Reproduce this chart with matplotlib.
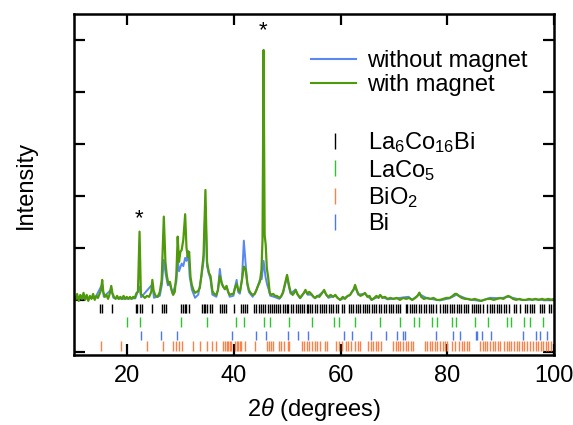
import matplotlib
matplotlib.use("Agg")
import matplotlib.pyplot as plt
from matplotlib.lines import Line2D

plt.rcParams['font.family'] = ['Liberation Sans', 'DejaVu Sans']
plt.rcParams['mathtext.fontset'] = 'custom'
plt.rcParams['mathtext.rm'] = 'Liberation Sans'
plt.rcParams['mathtext.it'] = 'Liberation Sans:italic'

# with magnet (2theta, intensity)
with_x = [10.0, 10.3, 10.6, 10.9, 11.2, 11.5, 11.8, 12.1, 12.4, 12.7, 13.0, 13.3, 13.6, 13.9, 14.2, 14.5,
          14.8, 15.1, 15.3, 15.5, 15.8, 16.1, 16.4, 16.7, 17.0, 17.2, 17.5, 17.8, 18.1, 18.4, 18.7, 19.0,
          19.3, 19.6, 19.9, 20.2, 20.5, 20.8, 21.1, 21.4, 21.75, 22.0, 22.3, 22.55, 22.9, 23.3, 23.7, 24.1,
          24.5, 24.7, 24.95, 25.3, 25.7, 26.1, 26.45, 26.85, 27.15, 27.4, 27.7, 28.0, 28.3, 28.6, 28.9, 29.2,
          29.45, 29.7, 29.95, 30.2, 30.5, 30.85, 31.1, 31.35, 31.6, 31.85, 32.1, 32.4, 32.7, 33.0, 33.3, 33.6,
          33.9, 34.3, 34.65, 34.95, 35.3, 35.6, 35.95, 36.3, 36.7, 37.0, 37.35, 37.7, 38.0, 38.3, 38.6, 38.9,
          39.2, 39.6, 39.9, 40.2, 40.5, 40.8, 41.1, 41.5, 41.85, 42.2, 42.5, 42.8, 43.1, 43.5, 43.9, 44.2,
          44.5, 44.85, 45.15, 45.35, 45.55, 45.75, 45.95, 46.15, 46.4, 46.7, 47.0, 47.35, 47.7, 48.0, 48.3, 48.6,
          48.9, 49.2, 49.6, 49.95, 50.3, 50.6, 51.0, 51.3, 51.55, 51.9, 52.4, 52.8, 53.1, 53.4, 53.8, 54.1,
          54.5, 54.9, 55.2, 55.6, 56.0, 56.4, 56.9, 57.3, 57.7, 58.1, 58.6, 59.0, 59.4, 59.9, 60.4, 60.8,
          61.3, 61.75, 62.1, 62.4, 62.7, 63.0, 63.3, 63.7, 64.1, 64.55, 65.0, 65.4, 65.8, 66.3, 66.7, 67.1,
          67.4, 67.8, 68.3, 68.8, 69.3, 69.9, 70.5, 71.1, 71.7, 72.3, 72.8, 73.4, 74.0, 74.4, 74.75, 75.1,
          75.6, 76.2, 76.8, 77.4, 78.0, 78.6, 79.2, 79.8, 80.4, 81.0, 81.4, 81.75, 82.1, 82.7, 83.3, 83.9,
          84.5, 85.1, 85.7, 86.3, 86.9, 87.5, 88.1, 88.7, 89.3, 89.9, 90.5, 91.0, 91.4, 91.8, 92.3, 92.9,
          93.5, 94.1, 94.7, 95.3, 95.9, 96.5, 97.1, 97.7, 98.3, 98.9, 99.5, 100.0]
with_y = [1077, 1000, 1115, 981, 1096, 1019, 1135, 1000, 1096, 981, 1077, 1019, 1115, 1000, 1077, 1038,
          1115, 1192, 1385, 1154, 1058, 1096, 1019, 1115, 1269, 1135, 1058, 1019, 1077, 1019, 1058, 1019,
          1077, 1019, 1058, 1019, 1058, 1019, 1058, 1038, 1135, 1154, 2313, 1115, 1077, 1038, 1077, 1058,
          1154, 1385, 1173, 1077, 1058, 1154, 1385, 2602, 1731, 1481, 1308, 1346, 1192, 1096, 1154, 1481,
          2217, 1731, 1923, 1962, 2154, 2648, 1999, 1827, 1923, 1442, 1288, 1192, 1135, 1154, 1173, 1231,
          1481, 1865, 3115, 1731, 1519, 1461, 1173, 1115, 1096, 1192, 1461, 1327, 1250, 1211, 1269, 1154,
          1096, 1115, 1115, 1231, 1308, 1192, 1154, 1385, 1640, 1577, 1327, 1192, 1135, 1096, 1115, 1192,
          1269, 1346, 1577, 2154, 5808, 2250, 2058, 1615, 1442, 1135, 1096, 1115, 1077, 1077, 1058, 1038,
          1077, 1154, 1327, 1481, 1288, 1154, 1096, 1135, 1192, 1115, 1038, 1096, 1135, 1192, 1115, 1154,
          1115, 1058, 1038, 1077, 1058, 1115, 1192, 1096, 1058, 1096, 1058, 1096, 1038, 1000, 1058, 1019,
          1077, 1096, 1154, 1192, 1288, 1192, 1115, 1077, 1096, 1135, 1058, 1077, 1000, 1038, 1077, 1038,
          1096, 1038, 1058, 1019, 1038, 1019, 1038, 1000, 1038, 1019, 1038, 1000, 1038, 1077, 1140, 1058,
          1019, 1038, 1019, 1038, 1000, 1000, 1019, 1038, 1038, 1077, 1115, 1115, 1077, 1038, 1019, 1019,
          1000, 1019, 1000, 981, 1000, 1019, 1019, 1000, 1019, 1038, 1019, 1058, 1077, 1058, 1019, 1000,
          1019, 1000, 1000, 1019, 1000, 1019, 1000, 1019, 1000, 1019, 1000, 1019]

# without magnet
without_x = [10.0, 12.0, 14.0, 15.3, 15.6, 17.0, 17.4, 19.0, 21.5, 22.3, 22.6, 24.7, 25.0, 26.1, 26.5,
             26.85, 27.2, 27.6, 28.0, 28.5, 29.2, 29.45, 29.7, 30.2, 30.5, 30.85, 31.1, 31.4, 31.7, 32.1,
             32.7, 33.3, 33.9, 34.3, 34.65, 34.95, 35.3, 35.6, 35.95, 36.7, 37.0, 37.35, 37.7, 38.3, 38.6,
             39.2, 39.9, 40.2, 40.5, 40.8, 41.1, 41.5, 41.85, 42.2, 42.5, 42.8, 43.5, 44.2, 44.85, 45.2,
             45.55, 45.9, 46.2, 46.5, 46.8, 47.5, 48.5, 49.2, 49.95, 50.3, 50.6, 51.55, 51.9, 52.4, 53.4,
             53.8, 54.5, 55.2, 56.9, 57.7, 59.0, 59.9, 61.75, 62.7, 63.3, 64.55, 65.8, 67.4, 68.8, 70.5,
             72.7, 73.4, 74.75, 76.2, 78.6, 80.4, 81.75, 83.9, 86.3, 88.0, 89.9, 91.4, 94.1, 96.5, 98.3, 100.0]
without_y = [1040, 1030, 1040, 1300, 1060, 1200, 1040, 1020, 1030, 1250, 1050, 1300, 1040, 1080, 1300,
             1769, 1500, 1280, 1300, 1120, 1350, 1800, 1550, 1700, 1650, 1808, 1750, 1942, 1450, 1200,
             1040, 1100, 1450, 1750, 2800, 1650, 1500, 1400, 1100, 1060, 1200, 1596, 1300, 1200, 1260,
             1060, 1080, 1250, 1385, 1150, 1120, 1400, 2140, 1673, 1300, 1150, 1060, 1180, 1385, 1400,
             1750, 1450, 1300, 1200, 1080, 1060, 1020, 1130, 1450, 1250, 1120, 1200, 1100, 1030, 1170,
             1100, 1100, 1030, 1170, 1040, 1080, 1000, 1090, 1250, 1100, 1120, 1000, 1080, 1010, 1030,
             1060, 1000, 1110, 1030, 990, 1030, 1100, 1010, 980, 1040, 1030, 1060, 995, 1010, 995, 1010]

# reflection positions (2theta)
la6co16bi = [14.8, 15.3, 17.2, 21.6, 21.85, 22.35, 22.8, 24.7, 26.5, 26.85, 27.3, 30.15, 30.45, 30.8, 31.1,
             31.6, 34.1, 34.4, 34.65, 34.9, 35.5, 35.85, 37.35, 37.75, 38.1, 38.5, 40.05, 41.3, 41.7, 42.1,
             42.4, 43.75, 44.15, 44.6, 45.1, 45.5, 45.9, 46.3, 46.7, 47.1, 47.5, 47.9, 48.3, 48.7, 49.1,
             49.5, 49.85, 50.2, 50.6, 51.1, 51.6, 52.0, 52.3, 52.8, 53.2, 53.6, 53.9, 54.3, 54.7, 55.1,
             55.5, 56.2, 56.5, 56.9, 57.3, 57.8, 58.2, 58.6, 59.1, 59.5, 60.2, 60.6, 61.6, 61.9, 62.3,
             62.8, 63.2, 63.7, 64.1, 64.5, 65.0, 65.4, 65.9, 66.3, 66.7, 67.2, 67.6, 68.1, 68.5, 69.0,
             69.4, 69.8, 70.3, 70.7, 71.2, 72.2, 72.5, 72.9, 73.4, 73.8, 74.2, 74.7, 75.1, 75.6, 76.0,
             76.5, 76.9, 77.3, 77.8, 78.7, 79.1, 79.5, 80.0, 80.4, 80.9, 81.3, 81.8, 82.2, 82.6, 83.1,
             83.5, 83.9, 84.6, 84.9, 85.3, 85.7, 86.2, 86.6, 87.5, 87.9, 88.4, 88.8, 89.3, 89.7, 90.1,
             90.6, 91.0, 91.5, 92.4, 92.8, 93.7, 94.6, 95.0, 95.4, 95.9, 96.3, 97.4, 97.7, 98.1, 99.0,
             99.4, 99.9]
laco5 = [20.0, 22.45, 30.15, 34.9, 40.45, 41.9, 45.6, 46.7, 50.25, 54.6, 58.8, 59.6, 62.7, 67.4, 71.1,
         73.7, 74.6, 77.2, 78.0, 80.8, 81.6, 85.2, 87.6, 91.1, 91.9, 94.4, 95.4, 97.9]
bio2 = [15.0, 18.9, 23.7, 26.7, 28.6, 29.2, 29.7, 30.3, 32.4, 33.7, 34.9, 35.95, 36.7, 37.9, 38.3, 38.6,
        38.9, 39.2, 39.5, 40.2, 40.5, 40.8, 41.1, 41.4, 42.0, 44.0, 46.2, 46.5, 46.85, 47.35, 48.4, 48.9,
        49.4, 50.05, 50.4, 52.7, 53.1, 53.6, 54.1, 54.6, 55.2, 55.6, 56.1, 57.0, 57.4, 59.2, 59.7, 60.2,
        61.0, 61.4, 62.0, 62.7, 63.3, 63.6, 65.2, 65.6, 66.1, 66.6, 67.0, 67.5, 69.9, 70.4, 70.8, 71.2,
        71.7, 72.2, 72.7, 73.1, 73.6, 75.8, 76.2, 76.7, 77.2, 77.7, 78.1, 78.6, 79.1, 79.6, 80.0, 80.8,
        81.4, 82.2, 82.7, 83.1, 83.6, 84.1, 86.1, 86.6, 87.0, 87.5, 88.0, 88.5, 88.9, 89.4, 89.9, 90.6,
        91.1, 91.6, 92.0, 92.5, 93.0, 93.5, 93.9, 94.4, 94.9, 95.4, 96.1, 96.6, 97.0, 97.5, 98.0, 98.5,
        98.9, 99.4]
bi = [22.5, 26.25, 29.25, 39.7, 44.2, 46.0, 50.1, 52.05, 53.8, 60.6, 62.2, 65.6, 68.55, 70.5, 71.75, 72.1,
      77.95, 81.1, 82.45, 85.3, 85.6, 86.5, 88.1, 94.1, 96.7, 97.3, 98.6]

c_without = '#5a88f2'
c_with = '#4f9a0a'
phases = [('La$_6$Co$_{16}$Bi', la6co16bi, 'black', 750, 930),
          ('LaCo$_5$', laco5, '#2bc62b', 470, 670),
          ('Bi', bi, '#4a78f0', 230, 410),
          ('BiO$_2$', bio2, '#ff7f45', 25, 205)]

fig = plt.figure(figsize=(5.73, 4.25), dpi=100)
ax = fig.add_axes([0.129, 0.165, 0.838, 0.802])

ax.plot(without_x, without_y, color=c_without, lw=1.4)
ax.plot(with_x, with_y, color=c_with, lw=1.6)

for name, pos, col, y0, y1 in phases:
    ax.vlines(pos, y0, y1, colors=col, lw=1.0)

ax.text(22.2, 2560, '*', ha='center', va='center', fontsize=16)
ax.text(45.5, 6180, '*', ha='center', va='center', fontsize=16)

ax.set_xlim(10, 100)
ax.set_ylim(-58, 6500)
ax.set_xticks([20, 40, 60, 80, 100])
ax.set_yticks([0, 1000, 2000, 3000, 4000, 5000, 6000])
ax.set_yticklabels([])
ax.tick_params(direction='in', length=8, width=1.6, top=True, right=True, labelsize=17, pad=7)
for s in ax.spines.values():
    s.set_linewidth(1.8)
ax.set_xlabel(r'2$\theta$ (degrees)', fontsize=17, labelpad=7)
ax.set_ylabel('Intensity', fontsize=17, labelpad=20)

leg1 = ax.legend([Line2D([], [], color=c_without, lw=1.5), Line2D([], [], color=c_with, lw=1.5)],
                 ['without magnet', 'with magnet'], loc='upper left', bbox_to_anchor=(0.494, 0.895),
                 frameon=False, fontsize=17, handlelength=1.9, handletextpad=0.45, labelspacing=0.1,
                 borderpad=0, borderaxespad=0)
ax.add_artist(leg1)
order = [0, 1, 3, 2]
h2 = [Line2D([], [], color=phases[i][2], marker='|', ls='none', markersize=11, mew=1) for i in order]
ax.legend(h2, [phases[i][0] for i in order], loc='upper left', bbox_to_anchor=(0.521, 0.66),
          frameon=False, fontsize=17, handlelength=0.9, handletextpad=0.95, labelspacing=0.12,
          borderpad=0, borderaxespad=0)

fig.savefig('out.png', dpi=100)
